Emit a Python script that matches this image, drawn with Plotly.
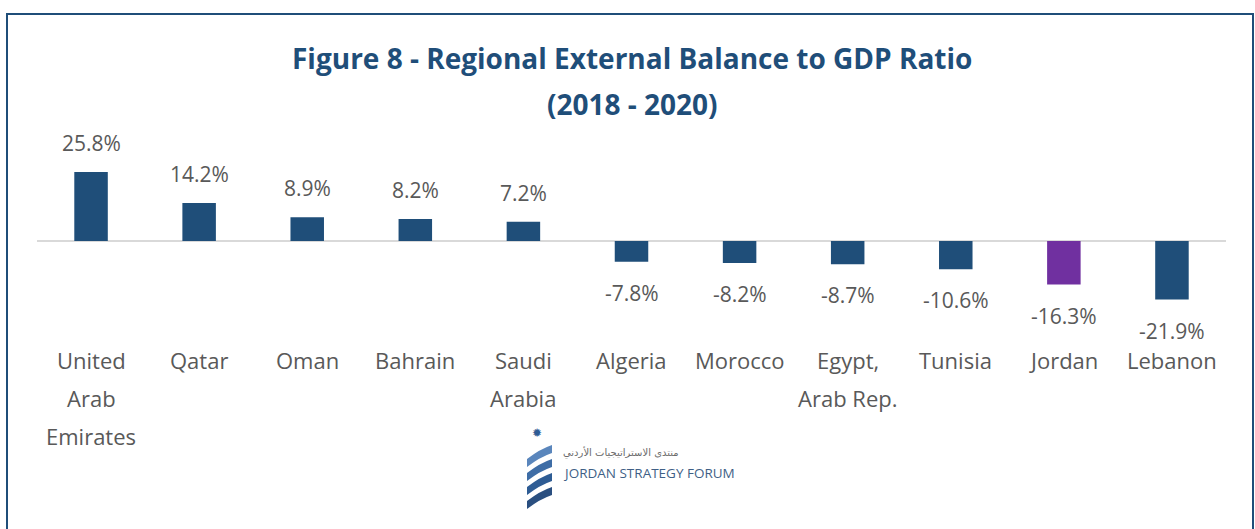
import plotly.graph_objects as go

categories = ["United Arab Emirates", "Qatar", "Oman", "Bahrain", "Saudi Arabia",
              "Algeria", "Morocco", "Egypt, Arab Rep.", "Tunisia", "Jordan", "Lebanon"]
label_lines = [["United", "Arab", "Emirates"], ["Qatar"], ["Oman"], ["Bahrain"],
               ["Saudi", "Arabia"], ["Algeria"], ["Morocco"], ["Egypt,", "Arab Rep."],
               ["Tunisia"], ["Jordan"], ["Lebanon"]]
values = [25.8, 14.2, 8.9, 8.2, 7.2, -7.8, -8.2, -8.7, -10.6, -16.3, -21.9]
highlight = "Jordan"

title_line1 = "Figure 8 - Regional External Balance to GDP Ratio"
title_line2 = "(2018 - 2020)"

W, H = 1255, 529
PX0, PX1 = 37, 1226      # plot area in window pixels
PY0, PY1 = 130, 345

def px(x):
    return (x - PX0) / (PX1 - PX0)

def py(y):
    return (PY1 - y) / (PY1 - PY0)

BLUE = "#1F4E79"
PURPLE = "#7030A0"
TXT = "#595959"
FONT = "Open Sans"

colors = [PURPLE if c == highlight else BLUE for c in categories]

fig = go.Figure()
fig.add_trace(go.Bar(x=categories, y=values, marker=dict(color=colors, line=dict(width=0)),
                     width=0.31, hoverinfo="x+y"))

annotations = []
for c, v in zip(categories, values):
    annotations.append(dict(x=c, y=v, xref="x", yref="y", text=f"{v:.1f}%",
                            showarrow=False, yanchor="middle",
                            yshift=29 if v >= 0 else -31,
                            font=dict(family=FONT, size=21, color=TXT)))
for c, lines in zip(categories, label_lines):
    for i, ln in enumerate(lines):
        annotations.append(dict(x=c, y=0, xref="x", yref="paper", text=ln,
                                showarrow=False, yanchor="middle",
                                yshift=-15 - 38 * i,
                                font=dict(family=FONT, size=22, color=TXT)))

annotations.append(dict(x=px(632), y=py(58), xref="paper", yref="paper", text=title_line1,
                        showarrow=False, xanchor="center", yanchor="middle",
                        font=dict(family=FONT, size=28, color=BLUE, weight="bold")))
annotations.append(dict(x=px(632), y=py(104), xref="paper", yref="paper", text=title_line2,
                        showarrow=False, xanchor="center", yanchor="middle",
                        font=dict(family=FONT, size=28, color=BLUE, weight="bold")))

# logo texts
annotations.append(dict(x=px(561), y=py(452), xref="paper", yref="paper",
                        text="منتدى الاستراتيجيات الأردني", showarrow=False,
                        xanchor="left", yanchor="middle",
                        font=dict(family="DejaVu Sans", size=10, color="#6B6B6B")))
annotations.append(dict(x=px(561), y=py(473), xref="paper", yref="paper",
                        text="JORDAN STRATEGY FORUM", showarrow=False,
                        xanchor="left", yanchor="middle",
                        font=dict(family=FONT, size=13.5, color="#3F5F86")))
annotations.append(dict(x=px(537), y=py(433), xref="paper", yref="paper",
                        text="✹", showarrow=False, xanchor="center", yanchor="middle",
                        font=dict(family="DejaVu Sans", size=12, color="#2E5C94")))

shapes = [dict(type="rect", xref="paper", yref="paper",
               x0=px(7), x1=px(1253), y0=py(560), y1=py(14),
               line=dict(color="#1F4E79", width=2), fillcolor="rgba(0,0,0,0)", layer="below")]

def P(x, y):
    return f"{px(x)},{py(y)}"

# logo ribbons (curved bands)
for y0, col in [(447, "#5A86BC"), (461, "#3E6DA6"), (475, "#2E5C94"), (489, "#2A4F80")]:
    p = (f"M {P(527, y0 + 12)} Q {P(540, y0 + 2)} {P(552, y0 - 2)} "
         f"L {P(552, y0 + 6)} Q {P(540, y0 + 10)} {P(527, y0 + 20)} Z")
    shapes.append(dict(type="path", xref="paper", yref="paper", path=p,
                       fillcolor=col, line=dict(width=0)))

fig.update_layout(
    width=W, height=H,
    margin=dict(l=PX0, r=W - PX1, t=PY0, b=H - PY1, pad=0),
    paper_bgcolor="white", plot_bgcolor="white",
    showlegend=False,
    xaxis=dict(showticklabels=False, showgrid=False, zeroline=False, showline=False,
               ticks="", range=[-0.5, len(categories) - 0.5], fixedrange=True),
    yaxis=dict(range=[-38.9, 41.5], showticklabels=False, showgrid=False,
               zeroline=True, zerolinecolor="#D9D9D9", zerolinewidth=2,
               showline=False, ticks="", fixedrange=True),
    annotations=annotations,
    shapes=shapes,
)

fig.write_html("out.html", config={"displayModeBar": False},
               post_script="document.body.style.margin='0';document.body.style.overflow='hidden';")
